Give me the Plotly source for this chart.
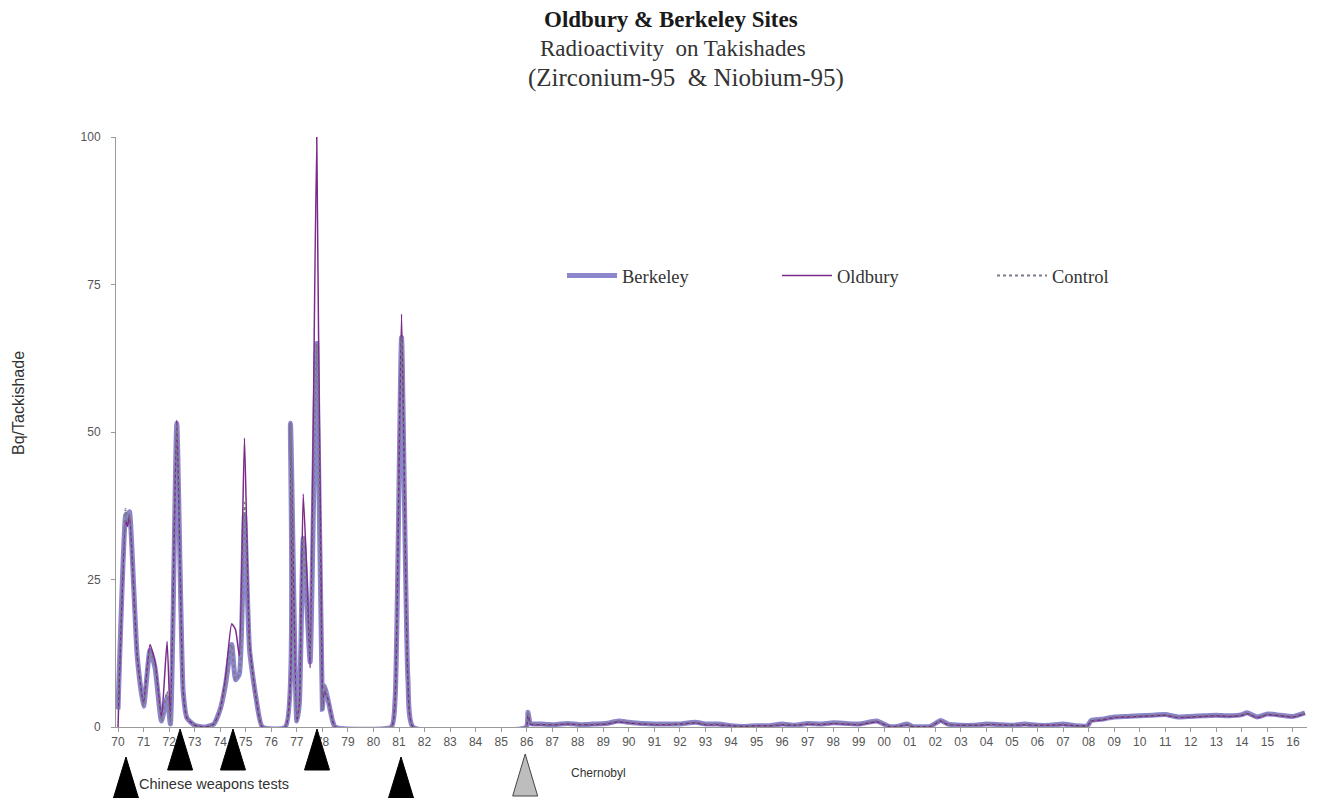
import plotly.graph_objects as go

# ---------------- data ----------------
t = [1970.00, 1970.05, 1970.30, 1970.37, 1970.45, 1970.75, 1971.00, 1971.25, 1971.45, 1971.70,
     1971.92, 1972.05, 1972.30, 1972.55, 1972.70, 1973.00, 1973.40, 1973.75, 1974.00, 1974.20,
     1974.45, 1974.60, 1974.75, 1974.95, 1975.15, 1975.40, 1975.65, 1976.55, 1976.75, 1977.00,
     1977.10, 1977.25, 1977.40, 1977.52, 1977.78, 1978.00, 1978.07, 1978.20, 1978.40, 1978.50,
     1980.70, 1980.85, 1981.10, 1981.35, 1981.55, 1985.98, 1986.05, 1986.15, 1986.60, 1987.10,
     1987.60, 1988.10, 1988.60, 1989.10, 1989.60, 1990.00, 1990.50, 1991.00, 1991.50, 1992.00,
     1992.60, 1993.00, 1993.50, 1994.00, 1994.50, 1995.00, 1995.50, 1996.00, 1996.50, 1997.00,
     1997.50, 1998.00, 1998.50, 1999.00, 1999.70, 2000.20, 2000.50, 2000.90, 2001.10, 2001.80,
     2002.20, 2002.50, 2003.00, 2003.50, 2004.00, 2004.50, 2005.00, 2005.50, 2006.00, 2006.50,
     2007.00, 2007.50, 2007.95, 2008.10, 2008.50, 2009.00, 2009.50, 2010.00, 2010.50, 2011.00,
     2011.50, 2012.00, 2012.50, 2013.00, 2013.50, 2014.00, 2014.20, 2014.60, 2015.00, 2015.50,
     2016.00, 2016.47]

berkeley = [3, 10, 36, 35, 36.5, 12, 3.5, 13, 10, 1,
            5, 0.5, 51.5, 6, 1.5, 0.3, 0, 0.5, 3, 7,
            14, 8, 9, 36, 13, 5, 0, 0, 51.5, 1,
            4, 32, 20, 11, 65, 3, 7, 5, 1, 0,
            0, 5, 66, 8, 0, 0, 2.5, 0.6, 0.5, 0.4,
            0.6, 0.4, 0.5, 0.6, 1.0, 0.8, 0.6, 0.5, 0.5, 0.5,
            0.8, 0.5, 0.5, 0.2, 0.1, 0.2, 0.2, 0.5, 0.3, 0.6,
            0.5, 0.7, 0.6, 0.5, 1.0, 0.1, 0.1, 0.5, 0.1, 0.1,
            1.1, 0.5, 0.3, 0.3, 0.5, 0.4, 0.3, 0.5, 0.3, 0.3,
            0.5, 0.2, 0.2, 1.1, 1.3, 1.7, 1.8, 1.9, 2.0, 2.1,
            1.7, 1.8, 1.9, 2.0, 1.9, 2.1, 2.4, 1.7, 2.2, 2.0,
            1.8, 2.4]

oldbury = [0, 8, 35, 34, 36, 12, 4, 14, 11, 1.5,
           14.5, 1, 52, 6, 1.5, 0.3, 0, 0.5, 3, 8,
           17.5, 16.5, 12, 49, 14, 5, 0, 0, 51.5, 1,
           4, 39.5, 25, 10, 100, 3, 6, 5, 1, 0,
           0, 5, 70, 8, 0, 0, 2.3, 0.5, 0.4, 0.4,
           0.5, 0.4, 0.4, 0.5, 0.9, 0.7, 0.5, 0.4, 0.4, 0.5,
           0.7, 0.4, 0.4, 0.2, 0.1, 0.2, 0.2, 0.4, 0.3, 0.5,
           0.4, 0.6, 0.5, 0.4, 0.9, 0.1, 0.1, 0.4, 0.1, 0.1,
           1.0, 0.4, 0.3, 0.3, 0.4, 0.4, 0.3, 0.4, 0.3, 0.3,
           0.4, 0.2, 0.2, 1.0, 1.2, 1.6, 1.7, 1.8, 1.9, 2.0,
           1.6, 1.7, 1.8, 1.9, 1.8, 2.0, 2.3, 1.6, 2.1, 1.9,
           1.7, 2.3]

control = [3, 11, 37, 35, 36, 12, 3.5, 13, 10, 1,
           6, 0.5, 51, 6, 1.5, 0.3, 0, 0.5, 3, 7,
           14, 8, 9, 38, 13, 5, 0, 0, 51.5, 1,
           4, 32, 20, 12, 65, 3, 7, 5, 1, 0,
           0, 5, 66, 8, 0, 0, 2.5, 0.6, 0.5, 0.4,
           0.6, 0.4, 0.5, 0.6, 1.0, 0.8, 0.6, 0.5, 0.5, 0.5,
           0.8, 0.5, 0.5, 0.2, 0.1, 0.2, 0.2, 0.5, 0.3, 0.6,
           0.5, 0.7, 0.6, 0.5, 1.0, 0.1, 0.1, 0.5, 0.1, 0.1,
           1.1, 0.5, 0.3, 0.3, 0.5, 0.4, 0.3, 0.5, 0.3, 0.3,
           0.5, 0.2, 0.2, 1.1, 1.3, 1.7, 1.8, 1.9, 2.0, 2.1,
           1.7, 1.8, 1.9, 2.0, 1.9, 2.1, 2.4, 1.7, 2.2, 2.0,
           1.8, 2.4]

tick_years = list(range(1970, 2017))
tick_labels = [str(y)[2:] for y in tick_years]

y_ticks = [0, 25, 50, 75, 100]

# event markers: row 0 = upper, 1 = lower
test_years = [1970.31, 1972.43, 1974.50, 1977.79, 1981.08]
test_rows = [1, 0, 0, 0, 1]
chernobyl_year = 1985.94

X0, X1 = 1969.92, 2016.55

fig = go.Figure()
fig.add_trace(go.Scatter(x=t, y=berkeley, mode="lines", name="Berkeley",
                         line=dict(color="#8c86cc", width=5, shape="spline", smoothing=0.5)))
fig.add_trace(go.Scatter(x=t, y=oldbury, mode="lines", name="Oldbury",
                         line=dict(color="#7a2a8a", width=1.5, shape="spline", smoothing=0.5)))
fig.add_trace(go.Scatter(x=t, y=control, mode="lines", name="Control",
                         line=dict(color="#7a7a88", width=2, dash="dot", shape="spline", smoothing=0.5)))

def xp(yr):
    return (yr - X0) / (X1 - X0)

H = 590.0
W = 1191.0
def yp(px):
    return (727 - px) / H

def xpx(px):
    return (px - 116) / W

shapes = []
half_w = 12.5 / W
for yr, row in zip(test_years, test_rows):
    top, bot = (729, 770) if row == 0 else (757, 798)
    cx = xp(yr)
    shapes.append(dict(type="path", xref="paper", yref="paper",
                       path=f"M {cx - half_w} {yp(bot)} L {cx + half_w} {yp(bot)} L {cx} {yp(top)} Z",
                       fillcolor="black", line=dict(color="black", width=1), layer="above"))
cx = xp(chernobyl_year)
shapes.append(dict(type="path", xref="paper", yref="paper",
                   path=f"M {cx - half_w} {yp(796)} L {cx + half_w} {yp(796)} L {cx} {yp(754)} Z",
                   fillcolor="#bdbdbd", line=dict(color="#444444", width=1), layer="above"))

serif = "Liberation Serif"
sans = "Liberation Sans"
annotations = [
    dict(text="<b>Oldbury & Berkeley Sites</b>", x=xpx(671), xref="paper", xanchor="center",
         y=yp(19), yref="paper", yanchor="middle", showarrow=False,
         font=dict(family=serif, size=23, color="#1a1a1a")),
    dict(text="Radioactivity  on Takishades", x=xpx(673), xref="paper", xanchor="center",
         y=yp(48), yref="paper", yanchor="middle", showarrow=False,
         font=dict(family=serif, size=23, color="#333333")),
    dict(text="(Zirconium-95  & Niobium-95)", x=xpx(686), xref="paper", xanchor="center",
         y=yp(78), yref="paper", yanchor="middle", showarrow=False,
         font=dict(family=serif, size=25, color="#333333")),
    dict(text="Bq/Tackishade", textangle=-90, x=xpx(18), xref="paper", xanchor="center",
         y=yp(403), yref="paper", yanchor="middle", showarrow=False,
         font=dict(family=sans, size=16, color="#333333")),
    dict(text="Chinese weapons tests", x=xpx(137), xref="paper", xanchor="left",
         y=yp(784), yref="paper", yanchor="middle", showarrow=False,
         font=dict(family=sans, size=14.5, color="#333333")),
    dict(text="Chernobyl", x=xpx(569), xref="paper", xanchor="left",
         y=yp(773), yref="paper", yanchor="middle", showarrow=False,
         font=dict(family=sans, size=12, color="#333333")),
]

fig.update_layout(
    width=1319, height=798,
    margin=dict(l=116, r=12, t=137, b=71),
    paper_bgcolor="white", plot_bgcolor="white",
    showlegend=True,
    legend=dict(orientation="h", x=xpx(562), xanchor="left", y=yp(276), yanchor="middle",
                font=dict(family=serif, size=18.5, color="#333333"),
                itemwidth=50, entrywidth=150, entrywidthmode="pixels", bgcolor="rgba(0,0,0,0)"),
    shapes=shapes,
    annotations=annotations,
)
fig.update_xaxes(range=[X0, X1], tickvals=tick_years, ticktext=tick_labels, showgrid=False,
                 zeroline=False, showline=True, linecolor="#9a9a9a", linewidth=1,
                 ticks="outside", ticklen=4, tickcolor="#9a9a9a",
                 tickfont=dict(family=sans, size=12, color="#555555"))
fig.update_yaxes(range=[0, 100], tickvals=y_ticks, showgrid=False, zeroline=False,
                 showline=True, linecolor="#9a9a9a", linewidth=1,
                 ticks="outside", ticklen=4, tickcolor="#9a9a9a", ticklabelstandoff=8,
                 tickfont=dict(family=sans, size=12, color="#555555"))

fig.write_html("out.html")
